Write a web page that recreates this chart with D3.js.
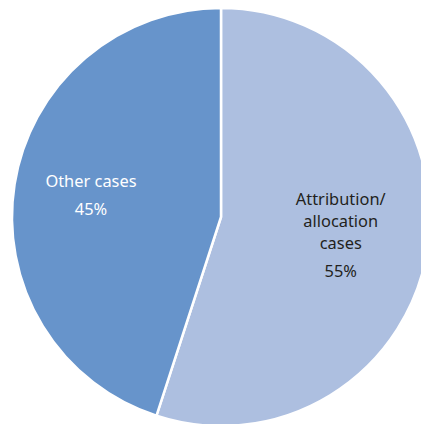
<!DOCTYPE html>
<html>
<head>
<meta charset="utf-8">
<script src="https://cdn.jsdelivr.net/npm/d3@7/dist/d3.min.js"></script>
<style>
  html, body { margin: 0; padding: 0; background: #fff; overflow: hidden; }
  svg { display: block; }
</style>
</head>
<body>
<svg id="chart" width="421" height="424"></svg>
<script>
// Case categories and their shares (percent)
const categories = ["Attribution/allocation cases", "Other cases"];
const shares = [55, 45];
const labelLines = [["Attribution/", "allocation", "cases"], ["Other cases"]];
const colors = ["#adbfe0", "#6794cb"];
const textColors = ["#231f20", "#ffffff"];

const svg = d3.select("#chart");
const cx = 221, cy = 217, radius = 209;

const data = categories.map((c, i) => ({ name: c, value: shares[i], lines: labelLines[i], i }));

const pie = d3.pie().value(d => d.value).sort(null);
const arcs = pie(data);
const arc = d3.arc().innerRadius(0).outerRadius(radius);

const g = svg.append("g").attr("transform", `translate(${cx},${cy})`);

g.selectAll("path.slice")
  .data(arcs)
  .join("path")
  .attr("class", "slice")
  .attr("d", arc)
  .attr("fill", d => colors[d.data.i])
  .attr("stroke", "#ffffff")
  .attr("stroke-width", 2.5)
  .attr("stroke-linejoin", "round");

// Labels sit at a fraction of the radius along each slice's mid-angle
const labelRadius = [0.58, 0.63];
const lineH = 22, pctGap = 6;

arcs.forEach(a => {
  const r = radius * labelRadius[a.data.i];
  const [lx, ly] = d3.arc().innerRadius(r).outerRadius(r).centroid(a);
  const lines = a.data.lines.concat([a.data.value + "%"]);
  const n = lines.length;
  const span = (n - 1) * lineH + pctGap;
  const t = g.append("text")
    .attr("text-anchor", "middle")
    .attr("fill", textColors[a.data.i])
    .style("font-family", "'Noto Sans', 'Open Sans', sans-serif")
    .style("font-size", "16.4px");
  lines.forEach((s, k) => {
    const isPct = k === n - 1;
    const dy = k * lineH + (isPct ? pctGap : 0) - span / 2;
    t.append("tspan")
      .attr("x", lx)
      .attr("y", ly + dy + 5)
      .text(s);
  });
});
</script>
</body>
</html>
